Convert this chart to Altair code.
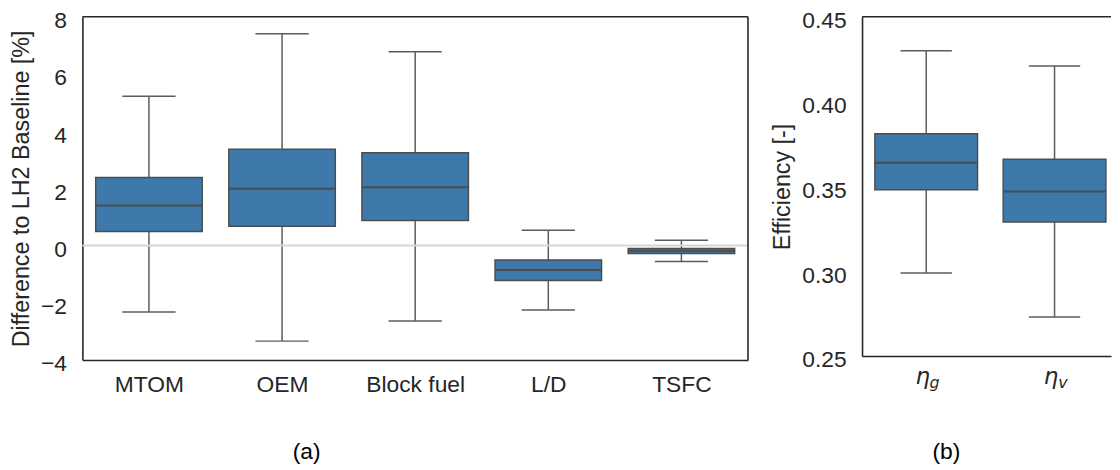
import json
import altair as alt
import pandas as pd

# ---------------- data ----------------
cats_a = ["MTOM", "OEM", "Block fuel", "L/D", "TSFC"]
lo_a = [-2.32, -3.34, -2.64, -2.25, -0.56]
q1_a = [0.49, 0.68, 0.88, -1.22, -0.28]
med_a = [1.40, 1.99, 2.04, -0.85, -0.18]
q3_a = [2.38, 3.37, 3.25, -0.50, -0.10]
hi_a = [5.22, 7.41, 6.78, 0.54, 0.19]
yticks_a = [-4, -2, 0, 2, 4, 6, 8]

eta_b = ["η", "η"]
subs_b = ["g", "v"]
lo_b = [0.299, 0.273]
q1_b = [0.348, 0.329]
med_b = [0.364, 0.347]
q3_b = [0.381, 0.366]
hi_b = [0.430, 0.421]
yticks_b = [0.25, 0.30, 0.35, 0.40, 0.45]

# ---------------- style ----------------
FONT = "Liberation Sans"
INK = "#262626"
BOX = "#3d7aab"
EDGE = "#4d4d4d"
WHISK = "#5c5c5c"
FS = 23
TFS = 23.5


def frame_df():
    return pd.DataFrame({"k": [0]})


def box_layers(df, xdom, ydom, xaxis, yaxis):
    base = alt.Chart(df).transform_calculate(
        bl="datum.idx - 0.4", br="datum.idx + 0.4",
        cl="datum.idx - 0.2", cr="datum.idx + 0.2")
    xs = alt.Scale(domain=xdom, nice=False, zero=False)
    ys = alt.Scale(domain=ydom, nice=False, zero=False)
    whisk = base.mark_rule(color=WHISK, strokeWidth=1.5).encode(
        x=alt.X("idx:Q", scale=xs, axis=xaxis, title=""),
        y=alt.Y("lo:Q", scale=ys, axis=yaxis),
        y2="hi:Q")
    cap_lo = base.mark_rule(color=WHISK, strokeWidth=1.5).encode(
        x=alt.X("cl:Q", title=""), x2="cr:Q", y="lo:Q")
    cap_hi = base.mark_rule(color=WHISK, strokeWidth=1.5).encode(
        x=alt.X("cl:Q", title=""), x2="cr:Q", y="hi:Q")
    box = base.mark_bar(fill=BOX, stroke=EDGE, strokeWidth=1.5).encode(
        x=alt.X("bl:Q", title=""), x2="br:Q", y="q1:Q", y2="q3:Q")
    med = base.mark_rule(color=EDGE, strokeWidth=2).encode(
        x=alt.X("bl:Q", title=""), x2="br:Q", y="med:Q")
    return [whisk, cap_lo, cap_hi, box, med]


# ---------------- panel (a) ----------------
df_a = pd.DataFrame({"idx": list(range(len(cats_a))), "lo": lo_a, "q1": q1_a,
                     "med": med_a, "q3": q3_a, "hi": hi_a})
xdom_a = [-0.5, len(cats_a) - 0.5]
ydom_a = [yticks_a[0], yticks_a[-1]]

xaxis_a = alt.Axis(values=list(range(len(cats_a))),
                   labelExpr=f"{json.dumps(cats_a)}[datum.value]",
                   labelPadding=14, labelFlush=False, labelOverlap=False,
                   title="")
yaxis_a = alt.Axis(values=yticks_a, title="Difference to LH2 Baseline [%]",
                   labelPadding=16, titlePadding=7.5, labelOffset=4)

zero_a = alt.Chart(frame_df()).mark_rule(color="#d6d6d6", strokeWidth=2).encode(
    x=alt.datum(xdom_a[0]), x2=alt.datum(xdom_a[1]), y=alt.datum(0))
top_a = alt.Chart(frame_df()).mark_rule(color=INK, strokeWidth=1.6).encode(
    x=alt.datum(xdom_a[0]), x2=alt.datum(xdom_a[1]), y=alt.datum(ydom_a[1]))
right_a = alt.Chart(frame_df()).mark_rule(color=INK, strokeWidth=1.6).encode(
    x=alt.datum(xdom_a[1]), y=alt.datum(ydom_a[0]), y2=alt.datum(ydom_a[1]))
cap_a = alt.Chart(frame_df()).mark_text(
    text="(a)", font=FONT, fontSize=23, color="black",
    baseline="alphabetic", align="center").encode(
    x=alt.value(226), y=alt.value(446))

layers_a = box_layers(df_a, xdom_a, ydom_a, xaxis_a, yaxis_a)
panel_a = alt.layer(
    layers_a[0], zero_a, *layers_a[1:], top_a, right_a, cap_a
).properties(width=671, height=346)

# ---------------- panel (b) ----------------
df_b = pd.DataFrame({"idx": list(range(len(subs_b))), "lo": lo_b, "q1": q1_b,
                     "med": med_b, "q3": q3_b, "hi": hi_b,
                     "eta": eta_b, "sub": subs_b})
xdom_b = [-0.5, 1.44]
ydom_b = [yticks_b[0], yticks_b[-1]]

xaxis_b = alt.Axis(values=list(range(len(subs_b))), labels=False, title="")
yaxis_b = alt.Axis(values=yticks_b, format=".2f", title="Efficiency [-]",
                   labelPadding=16, titlePadding=7.5, labelOffset=4)

top_b = alt.Chart(frame_df()).mark_rule(color=INK, strokeWidth=1.6).encode(
    x=alt.datum(xdom_b[0]), x2=alt.datum(xdom_b[1]), y=alt.datum(ydom_b[1]))
eta_txt = alt.Chart(df_b).mark_text(
    font="DejaVu Sans", fontStyle="italic", fontSize=23, color=INK,
    baseline="alphabetic", align="center", dx=-3.5).encode(
    x="idx:Q", y=alt.value(370), text="eta:N")
sub_txt = alt.Chart(df_b).mark_text(
    font="DejaVu Sans", fontStyle="italic", fontSize=16, color=INK,
    baseline="alphabetic", align="center", dx=8.5).encode(
    x="idx:Q", y=alt.value(374), text="sub:N")
cap_b = alt.Chart(frame_df()).mark_text(
    text="(b)", font=FONT, fontSize=23, color="black",
    baseline="alphabetic", align="center").encode(
    x=alt.value(85), y=alt.value(446))

panel_b = alt.layer(
    *box_layers(df_b, xdom_b, ydom_b, xaxis_b, yaxis_b),
    top_b, eta_txt, sub_txt, cap_b
).properties(width=251, height=342)

chart = alt.hconcat(panel_a, panel_b, spacing=21).properties(
    padding={"left": 1, "top": 0, "right": 0, "bottom": 0}
).configure_view(strokeOpacity=0).configure_axis(
    labelFont=FONT, titleFont=FONT, labelFontSize=FS, titleFontSize=TFS,
    labelColor=INK, titleColor=INK, titleFontWeight="normal",
    grid=False, ticks=False, domainColor=INK, domainWidth=1.6
)

chart.save("out.html", embed_options={"renderer": "svg", "actions": False})
